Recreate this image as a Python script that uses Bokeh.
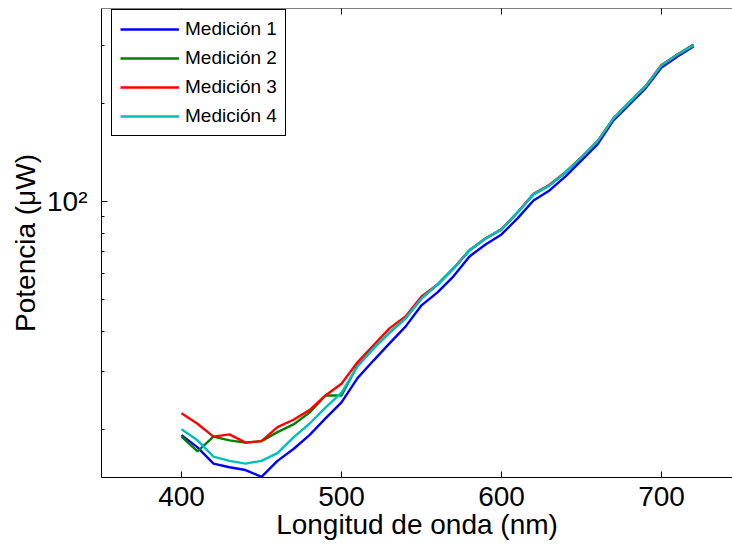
import math
from bokeh.plotting import figure
from bokeh.models import Range1d, FixedTicker, Legend, LegendItem, Span
from bokeh.embed import file_html
from bokeh.resources import INLINE

wavelength = [400, 410, 420, 430, 440, 450, 460, 470, 480, 490, 500, 510, 520, 530, 540, 550,
              560, 570, 580, 590, 600, 610, 620, 630, 640, 650, 660, 670, 680, 690, 700, 710, 720]

medicion_1 = [19.2, 17.6, 15.7, 15.3, 15.0, 14.3, 16.0, 17.4, 19.2, 21.6, 24.2, 28.7, 32.5, 36.7, 41.3, 48.0,
              52.6, 58.9, 67.8, 73.8, 79.2, 88.7, 100.7, 108.1, 119.3, 133.6, 149.6, 177.2, 198.4, 222.2, 257.6, 278.5, 298.9]
medicion_2 = [19.0, 17.1, 19.0, 18.5, 18.2, 18.4, 19.6, 20.7, 22.5, 25.4, 25.4, 31.4, 35.4, 39.6, 43.8, 50.4,
              55.6, 62.3, 70.8, 77.0, 82.1, 92.5, 105.1, 112.0, 122.7, 136.4, 152.8, 179.7, 201.2, 225.3, 261.4, 282.4, 303.1]
medicion_3 = [22.4, 20.8, 19.0, 19.3, 18.2, 18.4, 20.3, 21.4, 22.9, 25.4, 27.6, 32.1, 36.2, 40.8, 44.4, 51.1,
              55.6, 62.3, 70.8, 77.0, 82.1, 92.5, 105.6, 112.5, 123.0, 136.4, 152.8, 179.7, 201.2, 225.3, 262.0, 282.4, 301.0]
medicion_4 = [20.0, 18.5, 16.5, 16.0, 15.7, 16.0, 16.9, 18.9, 20.8, 23.3, 25.9, 31.2, 35.4, 39.6, 43.8, 50.4,
              55.6, 62.3, 70.8, 77.0, 82.1, 92.5, 105.1, 112.0, 122.7, 136.4, 152.8, 179.7, 201.2, 225.3, 261.4, 282.4, 301.0]

series_names = ["Medición 1", "Medición 2", "Medición 3", "Medición 4"]
series_colors = ["#0000FF", "#008000", "#FF0000", "#00BFBF"]

x_ticks = [400, 500, 600, 700]
y_major = [100]
y_minor = [20, 30, 40, 50, 60, 70, 80, 90, 200, 300]

x_min, x_max = 350, 744.375
y_min, y_max = 14.23, 390.6

FONT = "Liberation Sans"

p = figure(width=732, height=546, x_range=Range1d(x_min, x_max), y_range=Range1d(y_min, y_max),
           y_axis_type="log", output_backend="svg", toolbar_location=None,
           min_border_left=101, min_border_right=0, min_border_top=8, min_border_bottom=69)
p.background_fill_color = "white"
p.border_fill_color = "white"
p.outline_line_color = None
p.grid.visible = False

renderers = []
for vals, col in zip([medicion_1, medicion_2, medicion_3, medicion_4], series_colors):
    r = p.line(wavelength, vals, line_color=col, line_width=2.4)
    renderers.append(r)

# bottom axis
xa = p.xaxis[0]
xa.ticker = FixedTicker(ticks=x_ticks)
xa.major_tick_in = 6
xa.major_tick_out = 0
xa.minor_tick_line_color = None
xa.axis_line_color = "black"
xa.major_tick_line_color = "black"
xa.major_label_text_font = FONT
xa.major_label_text_font_size = "28px"
xa.major_label_text_color = "black"
xa.major_label_standoff = 9
xa.axis_label = "Longitud de onda (nm)"
xa.axis_label_text_font = FONT
xa.axis_label_text_font_size = "28px"
xa.axis_label_text_font_style = "normal"
xa.axis_label_text_color = "black"
xa.axis_label_standoff = 0

# left axis
ya = p.yaxis[0]
ya.ticker = FixedTicker(ticks=y_major, minor_ticks=y_minor)
ya.major_label_overrides = {100: "10²"}
ya.major_tick_in = 6
ya.major_tick_out = 0
ya.minor_tick_in = 3
ya.minor_tick_out = 0
ya.axis_line_color = "black"
ya.major_tick_line_color = "black"
ya.minor_tick_line_color = "black"
ya.major_label_text_font = FONT
ya.major_label_text_font_size = "28px"
ya.major_label_text_color = "black"
ya.major_label_standoff = 14
ya.axis_label = "Potencia (μW)"
ya.axis_label_text_font = FONT
ya.axis_label_text_font_size = "28px"
ya.axis_label_text_font_style = "normal"
ya.axis_label_text_color = "black"
ya.axis_label_standoff = 3

# top box edge with inward ticks
p.add_layout(Span(location=y_max, dimension="width", line_color="black", line_width=1))
p.scatter(x=x_ticks, y=[y_max] * len(x_ticks), marker="dash", angle=math.pi / 2, size=12,
          line_color="black", line_width=1)

legend = Legend(items=[LegendItem(label=n, renderers=[r]) for n, r in zip(series_names, renderers)],
                location=(10, 341), padding=8, spacing=7, glyph_height=20, label_height=20,
                glyph_width=59, label_standoff=6, margin=0,
                border_line_color="black", border_line_width=1, border_line_alpha=1,
                background_fill_color="white", background_fill_alpha=1,
                label_text_font=FONT, label_text_font_size="19px", label_text_color="black")
p.add_layout(legend)

open("out.html", "w").write(file_html(p, INLINE))
